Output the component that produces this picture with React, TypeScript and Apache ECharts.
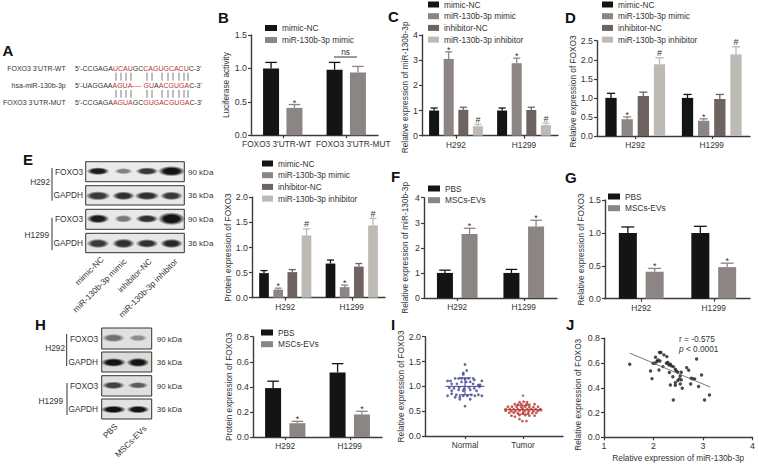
import React, { useEffect, useRef } from "react";
import * as echarts from "echarts";

const FONT = "Liberation Sans";
const TXT = "#333333";
const AX = "#3c3c3c";
const BLACK = "#141414";
const MID = "#8b8583";
const DARK = "#6d6461";
const LIGHT = "#bdb9b5";
const NAVY = "#3f4390";
const RED = "#b8352f";

const cellLines = ["H292", "H1299"];
const fourGroups = ["mimic-NC", "miR-130b-3p mimic", "inhibitor-NC", "miR-130b-3p inhibitor"];
const twoMimic = ["mimic-NC", "miR-130b-3p mimic"];
const evGroups = ["PBS", "MSCs-EVs"];
const utrCategories = ["FOXO3 3'UTR-WT", "FOXO3 3'UTR-MUT"];

const bValues = [[1.0, 0.98], [0.41, 0.94]];
const bTops = [[1.09, 1.09], [0.46, 1.03]];
const bMarks = [["", ""], ["*", ""]];

const cValues = [[1.0, 1.0], [3.05, 2.88], [1.03, 1.02], [0.38, 0.42]];
const cTops = [[1.1, 1.1], [3.33, 3.08], [1.13, 1.13], [0.45, 0.5]];
const fourMarks = [["", ""], ["*", "*"], ["", ""], ["#", "#"]];

const dValues = [[1.0, 1.0], [0.44, 0.4], [1.05, 0.97], [1.88, 2.14]];
const dTops = [[1.12, 1.09], [0.5, 0.45], [1.15, 1.09], [2.05, 2.34]];

const eValues = [[0.49, 0.68], [0.16, 0.21], [0.51, 0.62], [1.24, 1.44]];
const eTops = [[0.54, 0.75], [0.19, 0.25], [0.56, 0.68], [1.37, 1.58]];

const fValues = [[1.0, 1.0], [2.55, 2.85]];
const fTops = [[1.11, 1.14], [2.78, 3.1]];
const twoMarks = [["", ""], ["*", "*"]];

const gValues = [[1.0, 1.0], [0.41, 0.48]];
const gTops = [[1.09, 1.1], [0.46, 0.54]];

const hValues = [[0.39, 0.515], [0.11, 0.18]];
const hTops = [[0.445, 0.585], [0.125, 0.205]];

const normalPoints = [
  [1.0, 1.44], [1.03, 1.32], [0.97, 1.27], [0.97, 1.24], [0.7, 1.11], [0.75, 1.11], [0.83, 1.16], [0.89, 1.16],
  [0.94, 1.16], [1.0, 1.15], [1.06, 1.16], [1.14, 1.16], [1.16, 1.13], [1.29, 1.11], [0.77, 1.05], [0.86, 1.05],
  [0.94, 1.09], [1.02, 1.09], [1.09, 1.09], [1.14, 1.05], [1.23, 1.03], [1.26, 1.03], [0.73, 0.97], [0.81, 0.96],
  [0.9, 0.98], [0.98, 0.95], [1.07, 0.98], [1.16, 0.96], [1.25, 0.99], [0.77, 0.91], [0.89, 0.93], [0.97, 0.91],
  [1.09, 0.93], [1.2, 0.91], [0.7, 0.81], [0.77, 0.85], [0.85, 0.83], [0.91, 0.79], [0.97, 0.81], [1.04, 0.81],
  [1.11, 0.83], [1.17, 0.81], [1.23, 0.83], [1.29, 0.81], [0.83, 0.78], [1.09, 0.74], [0.91, 0.74], [1.0, 0.6],
];
const tumorPoints = [
  [1.94, 0.68], [2.01, 0.69], [2.07, 0.68], [1.86, 0.64], [1.91, 0.63], [1.97, 0.64], [2.06, 0.64], [2.11, 0.63],
  [2.2, 0.64], [1.74, 0.59], [1.81, 0.59], [1.89, 0.59], [1.97, 0.58], [2.04, 0.59], [2.11, 0.58], [2.18, 0.58],
  [2.26, 0.59], [1.7, 0.54], [1.77, 0.54], [1.84, 0.54], [1.91, 0.54], [1.99, 0.54], [2.07, 0.54], [2.14, 0.54],
  [2.22, 0.54], [2.3, 0.54], [1.7, 0.51], [1.8, 0.5], [1.87, 0.5], [1.94, 0.51], [2.03, 0.5], [2.1, 0.5],
  [2.18, 0.5], [2.26, 0.51], [2.31, 0.52], [1.76, 0.47], [1.84, 0.47], [1.91, 0.46], [2.0, 0.46], [2.09, 0.46],
  [2.16, 0.46], [2.23, 0.47], [1.8, 0.41], [1.86, 0.39], [1.94, 0.42], [2.04, 0.42], [2.11, 0.41], [2.2, 0.41],
  [1.94, 0.34], [1.99, 0.3], [2.06, 0.3],
];
const summaryI = [
  { x: 1, mean: 1.0, sd: 0.17, half: 0.335, color: NAVY },
  { x: 2, mean: 0.53, sd: 0.09, half: 0.32, color: RED },
];

const correlationPoints = [
  [1.52, 0.59], [1.94, 0.536], [1.97, 0.474], [1.99, 0.598], [2.03, 0.598], [2.04, 0.647], [2.09, 0.625],
  [2.07, 0.612], [2.12, 0.685], [2.15, 0.685], [2.11, 0.544], [2.13, 0.617], [2.19, 0.571], [2.21, 0.666],
  [2.27, 0.652], [2.26, 0.598], [2.29, 0.604], [2.31, 0.585], [2.34, 0.59], [2.36, 0.577], [2.4, 0.571],
  [2.44, 0.55], [2.46, 0.536], [2.49, 0.526], [2.56, 0.526], [2.32, 0.523], [2.39, 0.49], [2.54, 0.496],
  [2.52, 0.472], [2.56, 0.464], [2.49, 0.458], [2.54, 0.431], [2.34, 0.423], [2.44, 0.442], [2.44, 0.42],
  [2.58, 0.396], [2.4, 0.302], [2.67, 0.563], [2.71, 0.542], [2.76, 0.477], [2.79, 0.472], [2.83, 0.472],
  [2.75, 0.431], [2.91, 0.41], [2.87, 0.633], [2.97, 0.504], [3.03, 0.302], [3.13, 0.342],
];
const regressionLine = [[1.52, 0.68], [3.15, 0.405]];

const seqWT = "5'-CCGAGA{r|UCAU}GC{r|CAG}{r|UGCACU}C-3'";
const seqMiR = "5'-UAGGAA{r|AGUA---- GU}A{r|ACGUGA}C-3'";
const seqMUT = "5'-CCGAGA{r|AGUA}GC{r|GUG}{r|ACGUGA}C-3'";
const pairTicks = [116, 121, 126, 131, 147, 152, 162, 168, 173, 179, 184, 188];

// band strength, half width, half height per lane
const eBlotRows = [
  { label: "FOXO3", kda: "90 kDa", s: [0.95, 0.4, 0.8, 1], rx: [10, 8, 10, 12], ry: [3, 2.4, 3, 4] },
  { label: "GAPDH", kda: "36 kDa", s: [0.8, 0.85, 0.85, 0.8], rx: [11, 10, 11, 10], ry: [3.6, 3.4, 3.4, 3.4] },
  { label: "FOXO3", kda: "90 kDa", s: [0.95, 0.45, 0.85, 1], rx: [10, 8, 10, 12], ry: [3.6, 3, 3.2, 5] },
  { label: "GAPDH", kda: "36 kDa", s: [0.8, 0.85, 0.85, 0.9], rx: [10, 10, 10, 10], ry: [3.6, 3.8, 3.4, 3.6] },
];
const hBlotRows = [
  { label: "FOXO3", kda: "90 kDa", s: [0.5, 0.35], rx: [10, 8], ry: [3.2, 2.6] },
  { label: "GAPDH", kda: "36 kDa", s: [1, 1], rx: [11, 10], ry: [3.4, 3.6] },
  { label: "FOXO3", kda: "90 kDa", s: [0.75, 0.6], rx: [10, 9], ry: [3, 2.6] },
  { label: "GAPDH", kda: "36 kDa", s: [1, 1], rx: [11, 10], ry: [3, 3] },
];

const colors4 = [BLACK, MID, DARK, LIGHT];
const colors2 = [BLACK, MID];
const oneDec = (v: number) => v.toFixed(1);
const intFmt = (v: number) => String(v);

function App() {
  const ref = useRef<HTMLDivElement>(null);
  useEffect(() => {
    document.body.style.margin = "0";
    const chart = echarts.init(ref.current!, undefined, { renderer: "svg" });

    const grids: any[] = [];
    const xAxes: any[] = [];
    const yAxes: any[] = [];
    const series: any[] = [];
    const legends: any[] = [];
    const graphics: any[] = [];

    const axisLine = { show: true, lineStyle: { color: AX, width: 1.4 } };
    const axisTick = { show: true, length: 3, lineStyle: { color: AX, width: 1.2 } };
    const labelStyle = { color: TXT, fontFamily: FONT };

    function barPanel(p: any) {
      const i = grids.length;
      grids.push({ left: p.x0, top: p.yTop, width: p.x1 - p.x0, height: p.yBottom - p.yTop, containLabel: false });
      xAxes.push({
        gridIndex: i,
        type: "category",
        data: p.cats,
        axisLine,
        axisTick: { ...axisTick, alignWithLabel: true },
        axisLabel: { ...labelStyle, fontSize: 8.3, margin: 5, interval: 0, ...(p.xLabel || {}) },
      });
      yAxes.push({
        gridIndex: i,
        type: "value",
        min: 0,
        max: p.yMax,
        interval: p.interval,
        name: p.title,
        nameLocation: "middle",
        nameGap: p.nameGap,
        nameTextStyle: { ...labelStyle, fontSize: p.titleSize || 8.3, padding: p.titlePad || 0 },
        axisLine,
        axisTick,
        splitLine: { show: false },
        axisLabel: { ...labelStyle, fontSize: 8.8, margin: 4, formatter: p.fmt },
      });
      const n = p.names.length;
      const step = p.barW * (1 + p.gap);
      p.names.forEach((name: string, s: number) => {
        series.push({
          type: "bar",
          name,
          xAxisIndex: i,
          yAxisIndex: i,
          data: p.values[s],
          barWidth: p.barW,
          barGap: `${p.gap * 100}%`,
          itemStyle: { color: p.colors[s] },
          silent: true,
        });
        const tops = p.tops[s];
        series.push({
          type: "custom",
          xAxisIndex: i,
          yAxisIndex: i,
          data: tops.map((t: number, c: number) => [c, t, p.values[s][c]]),
          encode: { x: 0, y: 1 },
          clip: false,
          silent: true,
          renderItem: (params: any, api: any) => {
            const c = api.value(0);
            const off = (s - (n - 1) / 2) * step;
            const top = api.coord([c, api.value(1)]);
            const base = api.coord([c, api.value(2)]);
            const x = top[0] + off;
            const cap = p.barW * 0.36;
            const style = { stroke: p.colors[s], lineWidth: 1.3, fill: "none" };
            const mark = p.marks[s][params.dataIndex];
            const children: any[] = [
              { type: "line", shape: { x1: x, y1: base[1], x2: x, y2: top[1] }, style },
              { type: "line", shape: { x1: x - cap, y1: top[1], x2: x + cap, y2: top[1] }, style },
            ];
            if (mark) {
              children.push({
                type: "text",
                style: {
                  text: mark,
                  x,
                  y: top[1] + (mark === "*" ? 2.5 : 0),
                  align: "center",
                  verticalAlign: "bottom",
                  fill: TXT,
                  fontFamily: FONT,
                  fontSize: 9,
                },
              });
            }
            return { type: "group", children };
          },
        });
      });
      legends.push({
        left: p.legend[0],
        top: p.legend[1],
        orient: "vertical",
        data: p.names,
        icon: "rect",
        itemWidth: p.legend[2],
        itemHeight: 6,
        itemGap: p.legend[3],
        selectedMode: false,
        padding: 0,
        textStyle: { ...labelStyle, fontSize: 8.3, lineHeight: 9 },
      });
    }

    barPanel({
      x0: 251, x1: 378, yTop: 35, yBottom: 135.3, yMax: 1.5, interval: 0.5, cats: utrCategories,
      names: twoMimic, values: bValues, tops: bTops, marks: bMarks, colors: colors2, barW: 16, gap: 0.46,
      title: "Luciferase activity", nameGap: 21.5, fmt: oneDec, legend: [265, 23.5, 12, 3],
      xLabel: {
        formatter: (v: string, idx: number) => (idx === 0 ? `{l|${v}}` : `{r|${v}}`),
        rich: {
          l: { padding: [0, 12, 0, 0], fontSize: 8.3, fontFamily: FONT, color: TXT },
          r: { padding: [0, 0, 0, 14], fontSize: 8.3, fontFamily: FONT, color: TXT },
        },
      },
    });
    barPanel({
      x0: 422, x1: 558, yTop: 35, yBottom: 135.7, yMax: 4, interval: 1, cats: cellLines,
      names: fourGroups, values: cValues, tops: cTops, marks: fourMarks, colors: colors4, barW: 10, gap: 0.46,
      title: "Relative expression of miR-130b-3p", nameGap: 13, fmt: intFmt, legend: [428, 0, 11, 2.7],
      titlePad: [0, 4, 0, 0],
    });
    barPanel({
      x0: 597, x1: 750, yTop: 40.7, yBottom: 136, yMax: 2.5, interval: 0.5, cats: cellLines,
      names: fourGroups, values: dValues, tops: dTops, marks: fourMarks, colors: colors4, barW: 11.3, gap: 0.43,
      title: "Relative expression of FOXO3", nameGap: 17, fmt: oneDec, legend: [602, 0, 11, 2.7],
      titlePad: [0, 6, 0, 0],
    });
    barPanel({
      x0: 252, x1: 385, yTop: 197.3, yBottom: 297.7, yMax: 2, interval: 0.5, cats: cellLines,
      names: fourGroups, values: eValues, tops: eTops, marks: fourMarks, colors: colors4, barW: 9.7, gap: 0.46,
      title: "Protein expression of FOXO3", nameGap: 19, fmt: oneDec, legend: [262, 159, 11, 2.7],
    });
    barPanel({
      x0: 424, x1: 557, yTop: 197.7, yBottom: 298, yMax: 4, interval: 1, cats: cellLines,
      names: evGroups, values: fValues, tops: fTops, marks: twoMarks, colors: colors2, barW: 16, gap: 0.54,
      title: "Relative expression of miR-130b-3p", nameGap: 15, fmt: intFmt, legend: [428, 184, 12, 2.7],
    });
    barPanel({
      x0: 605, x1: 750, yTop: 200, yBottom: 298.7, yMax: 1.5, interval: 0.5, cats: cellLines,
      names: evGroups, values: gValues, tops: gTops, marks: twoMarks, colors: colors2, barW: 18, gap: 0.49,
      title: "Relative expression of FOXO3", nameGap: 20, fmt: oneDec, legend: [608, 192, 12, 2.7],
    });
    barPanel({
      x0: 253, x1: 382, yTop: 336.7, yBottom: 437, yMax: 0.8, interval: 0.2, cats: cellLines,
      names: evGroups, values: hValues, tops: hTops, marks: twoMarks, colors: colors2, barW: 16, gap: 0.52,
      title: "Protein expression of FOXO3", nameGap: 19, fmt: oneDec, legend: [261, 328, 12, 2.7],
    });

    // Panel I
    const iIdx = grids.length;
    grids.push({ left: 425, top: 336.7, width: 138, height: 99.3 });
    xAxes.push({
      gridIndex: iIdx,
      type: "value",
      min: 0.31,
      max: 2.69,
      axisLine,
      splitLine: { show: false },
      axisTick: { ...axisTick, customValues: [1, 2] },
      axisLabel: {
        ...labelStyle,
        fontSize: 8.3,
        margin: 5,
        customValues: [1, 2],
        formatter: (v: number) => (v === 1 ? "Normal" : "Tumor"),
      },
    });
    yAxes.push({
      gridIndex: iIdx,
      type: "value",
      min: 0,
      max: 2,
      interval: 0.5,
      name: "Relative expression of FOXO3",
      nameLocation: "middle",
      nameGap: 19.5,
      nameTextStyle: { ...labelStyle, fontSize: 8.3 },
      axisLine,
      axisTick,
      splitLine: { show: false },
      axisLabel: { ...labelStyle, fontSize: 8.8, margin: 4, formatter: oneDec },
    });
    series.push({
      type: "scatter", name: "Normal", xAxisIndex: iIdx, yAxisIndex: iIdx, data: normalPoints,
      symbolSize: 2.8, itemStyle: { color: NAVY }, silent: true,
    });
    series.push({
      type: "scatter", name: "Tumor", xAxisIndex: iIdx, yAxisIndex: iIdx, data: tumorPoints,
      symbolSize: 2.8, itemStyle: { color: RED }, silent: true,
    });
    series.push({
      type: "custom",
      xAxisIndex: iIdx,
      yAxisIndex: iIdx,
      data: summaryI.map((d) => [d.x, d.mean, d.sd, d.half]),
      encode: { x: 0, y: 1 },
      silent: true,
      renderItem: (params: any, api: any) => {
        const x = api.value(0), m = api.value(1), sd = api.value(2), h = api.value(3);
        const style = { stroke: summaryI[params.dataIndex].color, lineWidth: 1, fill: "none" };
        const c = api.coord([x, m]);
        const l = api.coord([x - h, m]);
        const r = api.coord([x + h, m]);
        const up = api.coord([x, m + sd]);
        const dn = api.coord([x, m - sd]);
        return {
          type: "group",
          children: [
            { type: "line", shape: { x1: l[0], y1: c[1], x2: r[0], y2: c[1] }, style },
            { type: "line", shape: { x1: c[0], y1: up[1], x2: c[0], y2: dn[1] }, style },
            { type: "line", shape: { x1: c[0] - 6, y1: up[1], x2: c[0] + 6, y2: up[1] }, style },
            { type: "line", shape: { x1: c[0] - 6, y1: dn[1], x2: c[0] + 6, y2: dn[1] }, style },
          ],
        };
      },
    });
    series.push({
      type: "scatter", xAxisIndex: iIdx, yAxisIndex: iIdx, data: [[2, 0.69]], symbolSize: 0, silent: true,
      label: { show: true, position: "top", distance: 0, formatter: "*", fontSize: 9, fontFamily: FONT, color: TXT },
    });

    // Panel J
    const jIdx = grids.length;
    grids.push({ left: 604, top: 338.3, width: 149, height: 99 });
    xAxes.push({
      gridIndex: jIdx,
      type: "value",
      min: 1,
      max: 4,
      interval: 1,
      name: "Relative expression of miR-130b-3p",
      nameLocation: "middle",
      nameGap: 16.5,
      nameTextStyle: { ...labelStyle, fontSize: 8.3 },
      axisLine,
      axisTick,
      splitLine: { show: false },
      axisLabel: { ...labelStyle, fontSize: 8.8, margin: 4 },
    });
    yAxes.push({
      gridIndex: jIdx,
      type: "value",
      min: 0,
      max: 0.8,
      interval: 0.2,
      name: "Relative expression of FOXO3",
      nameLocation: "middle",
      nameGap: 22,
      nameTextStyle: { ...labelStyle, fontSize: 8.3, padding: [0, 14, 0, 0] },
      axisLine,
      axisTick,
      splitLine: { show: false },
      axisLabel: { ...labelStyle, fontSize: 8.8, margin: 4, formatter: oneDec },
    });
    series.push({
      type: "scatter", name: "Samples", xAxisIndex: jIdx, yAxisIndex: jIdx, data: correlationPoints,
      symbolSize: 3.4, itemStyle: { color: "#1c1c1c" }, silent: true,
    });
    series.push({
      type: "line", name: "Fit", xAxisIndex: jIdx, yAxisIndex: jIdx, data: regressionLine, showSymbol: false,
      symbol: "none", lineStyle: { color: "#6a6a6a", width: 0.9 }, silent: true,
    });

    // Free text helpers
    const text = (t: string, x: number, y: number, opt: any = {}) =>
      graphics.push({
        type: "text",
        x,
        y,
        rotation: opt.rotation || 0,
        silent: true,
        style: {
          text: t,
          x: 0,
          y: 0,
          fill: opt.fill || TXT,
          fontFamily: FONT,
          fontSize: opt.size || 8.3,
          fontWeight: opt.weight || "normal",
          fontStyle: opt.style || "normal",
          align: opt.align || "left",
          verticalAlign: opt.va || "middle",
          rich: opt.rich,
        },
      });
    const line = (x1: number, y1: number, x2: number, y2: number, color = AX, w = 1.1) =>
      graphics.push({
        type: "line",
        silent: true,
        shape: { x1, y1, x2, y2 },
        style: { stroke: color, lineWidth: w },
      });

    // Panel letters
    const letters: [string, number, number][] = [
      ["A", 2.5, 50], ["B", 218, 17], ["C", 388, 16], ["D", 565, 17], ["E", 23, 159],
      ["F", 391, 176], ["G", 565, 177], ["H", 35, 324], ["I", 391, 324], ["J", 566, 324],
    ];
    letters.forEach(([l, x, y]) => text(l, x, y, { size: 15, weight: "bold", fill: "#111" }));

    // Panel A
    const seqRich = { r: { fill: RED, fontFamily: FONT, fontSize: 7 } };
    text("FOXO3 3'UTR-WT", 65.7, 68.3, { align: "right", size: 7 });
    text("hsa-miR-130b-3p", 65.7, 85.7, { align: "right", size: 7 });
    text("FOXO3 3'UTR-MUT", 65.7, 102.3, { align: "right", size: 7 });
    text(seqWT, 75, 68.3, { size: 7, rich: seqRich });
    text(seqMiR, 75, 85.7, { size: 7, rich: seqRich });
    text(seqMUT, 75, 102.3, { size: 7, rich: seqRich });
    pairTicks.forEach((x) => {
      line(x, 72.7, x, 80.7, "#444", 0.7);
      line(x, 90, x, 97.7, "#444", 0.7);
    });

    // ns bracket
    line(334, 57, 357, 57, "#222", 0.9);
    text("ns", 345.5, 52, { align: "center", size: 8.3 });

    // Western blots
    function blot(b: any) {
      b.rows.forEach((row: any, r: number) => {
        const [y0, y1] = b.rowY[r];
        graphics.push({
          type: "rect",
          silent: true,
          shape: { x: b.x0, y: y0, width: b.x1 - b.x0, height: y1 - y0 },
          style: { fill: b.bg[r], stroke: "#333", lineWidth: 1 },
        });
        row.s.forEach((s: number, l: number) => {
          const core = Math.round(205 - 185 * s);
          const c = `rgb(${core},${core},${core})`;
          const e = `rgba(${core},${core},${core},0)`;
          graphics.push({
            type: "ellipse",
            silent: true,
            shape: { cx: b.lanes[l], cy: (y0 + y1) / 2 + (r % 2 ? 0.5 : -0.5), rx: row.rx[l] * 1.15, ry: row.ry[l] * 1.3 },
            style: {
              fill: {
                type: "radial",
                x: 0.5,
                y: 0.5,
                r: 0.5,
                colorStops: [
                  { offset: 0, color: c },
                  { offset: 0.55, color: c },
                  { offset: 1, color: e },
                ],
              },
            },
          });
        });
        text(row.label, b.labelX, (y0 + y1) / 2, { align: "right", size: 8.3 });
        text(row.kda, b.kdaX, (y0 + y1) / 2 + 0.5, { size: 8 });
      });
      b.groups.forEach((g: any) => {
        text(g.name, g.tx, g.ty, { align: "right", size: 8.3 });
        line(g.lx, g.y0, g.lx, g.y1, "#333", 1);
      });
      b.laneLabels.forEach((t: string, l: number) => {
        text(t, b.laneEnd[l][0], b.laneEnd[l][1], { align: "right", rotation: Math.PI / 4, size: 8.3, va: "middle" });
      });
    }

    blot({
      rows: eBlotRows,
      x0: 85.7,
      x1: 184.3,
      rowY: [[161.7, 181.7], [185.7, 205], [209.3, 229.3], [233.3, 252.7]],
      bg: ["#eceae9", "#e9e7e6", "#eae8e7", "#e9e7e6"],
      lanes: [98, 123.5, 147, 171.5],
      labelX: 83,
      kdaX: 188,
      groups: [
        { name: "H292", tx: 50, ty: 182, lx: 52, y0: 168, y1: 200.7 },
        { name: "H1299", tx: 49, ty: 235, lx: 52, y0: 217.7, y1: 250 },
      ],
      laneLabels: fourGroups,
      laneEnd: [[102, 258], [125, 260], [150, 260], [176, 260]],
    });
    blot({
      rows: hBlotRows,
      x0: 101.7,
      x1: 151.7,
      rowY: [[328, 349], [352, 372], [375.7, 396], [399, 419]],
      bg: ["#e2e0de", "#dddbda", "#e2e0df", "#e4e2e1"],
      lanes: [113.5, 138],
      labelX: 98,
      kdaX: 156.7,
      groups: [
        { name: "H292", tx: 65, ty: 348, lx: 66.7, y0: 334, y1: 366 },
        { name: "H1299", tx: 63, ty: 400.7, lx: 67, y0: 383, y1: 415 },
      ],
      laneLabels: evGroups,
      laneEnd: [[116, 425], [145, 427]],
    });

    // Panel J annotation
    text("r = -0.575", 679, 339, { size: 8.3 });
    text("{i|p} < 0.0001", 679, 348.5, {
      size: 8.3,
      rich: { i: { fontStyle: "italic", fontFamily: FONT, fontSize: 8.3, fill: TXT } },
    });

    chart.setOption({
      animation: false,
      backgroundColor: "#ffffff",
      textStyle: { fontFamily: FONT },
      tooltip: { show: false },
      grid: grids,
      xAxis: xAxes,
      yAxis: yAxes,
      legend: legends,
      series,
      graphic: { elements: graphics },
    });
    return () => chart.dispose();
  }, []);
  return <div ref={ref} style={{ width: 758, height: 464, position: "absolute", left: 0, top: 0 }} />;
}

export default App;
